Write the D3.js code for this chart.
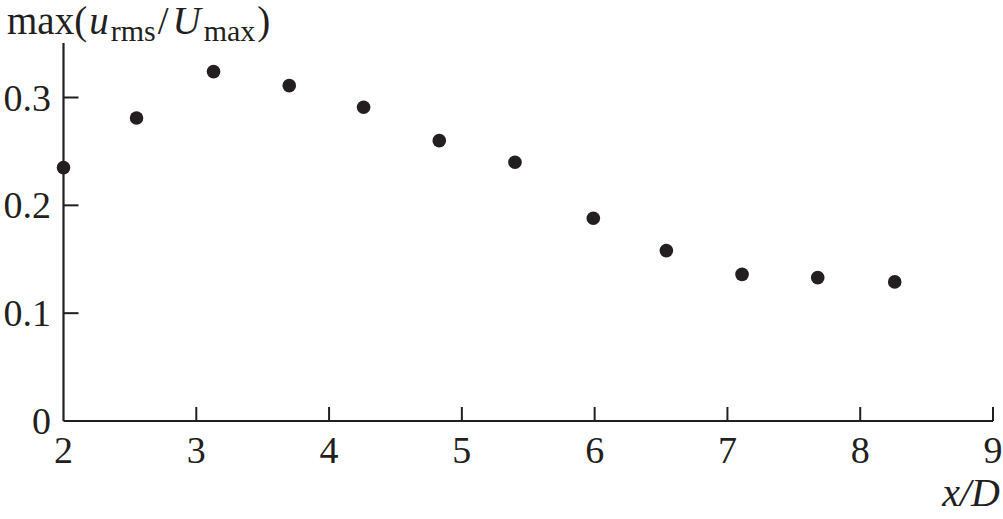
<!DOCTYPE html>
<html>
<head>
<meta charset="utf-8">
<script src="https://cdn.jsdelivr.net/npm/d3@7"></script>
<style>
  body { margin: 0; background: #fff; }
  text { font-family: "Liberation Serif", "DejaVu Serif", serif; fill: #231f20; }
</style>
</head>
<body>
<svg width="1003" height="519"></svg>
<script>
// x/D positions and max(u_rms/U_max) values
var xValues = [2.0, 2.55, 3.13, 3.70, 4.26, 4.83, 5.40, 5.99, 6.54, 7.11, 7.68, 8.26];
var yValues = [0.235, 0.281, 0.324, 0.311, 0.291, 0.260, 0.240, 0.188, 0.158, 0.136, 0.133, 0.129];
var xTicks = [2, 3, 4, 5, 6, 7, 8, 9];
var yTicks = [0, 0.1, 0.2, 0.3];

var ink = '#231f20';
var svg = d3.select('svg');

var x = d3.scaleLinear().domain([2, 9]).range([63.5, 993]);
var y = d3.scaleLinear().domain([0, 0.3]).range([421, 97.5]);

// axes lines
svg.append('line')
    .attr('x1', x(2)).attr('x2', x(9))
    .attr('y1', y(0)).attr('y2', y(0))
    .attr('stroke', ink).attr('stroke-width', 2.2);
svg.append('line')
    .attr('x1', x(2)).attr('x2', x(2))
    .attr('y1', y(0)).attr('y2', 43)
    .attr('stroke', ink).attr('stroke-width', 2.2);

// x ticks (inward)
svg.selectAll('.xt')
    .data(xTicks.slice(1))
    .enter()
    .append('line')
    .attr('x1', function (d) { return x(d); })
    .attr('x2', function (d) { return x(d); })
    .attr('y1', y(0)).attr('y2', y(0) - 14)
    .attr('stroke', ink).attr('stroke-width', 2);

svg.selectAll('.xl')
    .data(xTicks)
    .enter()
    .append('text')
    .attr('x', function (d) { return x(d); })
    .attr('y', 463)
    .attr('text-anchor', 'middle')
    .attr('font-size', 38)
    .text(function (d) { return d; });

// y ticks
svg.selectAll('.yt')
    .data(yTicks.slice(1))
    .enter()
    .append('line')
    .attr('x1', x(2)).attr('x2', x(2) + 15)
    .attr('y1', function (d) { return y(d); })
    .attr('y2', function (d) { return y(d); })
    .attr('stroke', ink).attr('stroke-width', 2);

svg.selectAll('.yl')
    .data(yTicks)
    .enter()
    .append('text')
    .attr('x', 51)
    .attr('y', function (d) { return y(d) + 13; })
    .attr('text-anchor', 'end')
    .attr('font-size', 38)
    .text(function (d) { return d === 0 ? '0' : d3.format('.1f')(d); });

// points
svg.selectAll('circle')
    .data(xValues)
    .enter()
    .append('circle')
    .attr('cx', function (d) { return x(d); })
    .attr('cy', function (d, i) { return y(yValues[i]); })
    .attr('r', 6.8)
    .attr('fill', ink);

// y axis title
var title = svg.append('text')
    .attr('x', 7)
    .attr('y', 34)
    .attr('font-size', 39);
title.append('tspan').text('max(');
title.append('tspan').attr('font-style', 'italic').attr('dx', 2).text('u');
title.append('tspan').attr('font-size', 30).attr('dy', 7).attr('dx', 2).text('rms');
title.append('tspan').attr('dy', -7).attr('dx', 2).text('/');
title.append('tspan').attr('font-style', 'italic').attr('dx', 4).text('U');
title.append('tspan').attr('font-size', 30).attr('dy', 7).attr('dx', 3).text('max');
title.append('tspan').attr('dy', -7).attr('dx', 2).text(')');

// x axis title
svg.append('text')
    .attr('x', 1000)
    .attr('y', 506)
    .attr('text-anchor', 'end')
    .attr('font-size', 40)
    .attr('font-style', 'italic')
    .text('x/D');
</script>
</body>
</html>
